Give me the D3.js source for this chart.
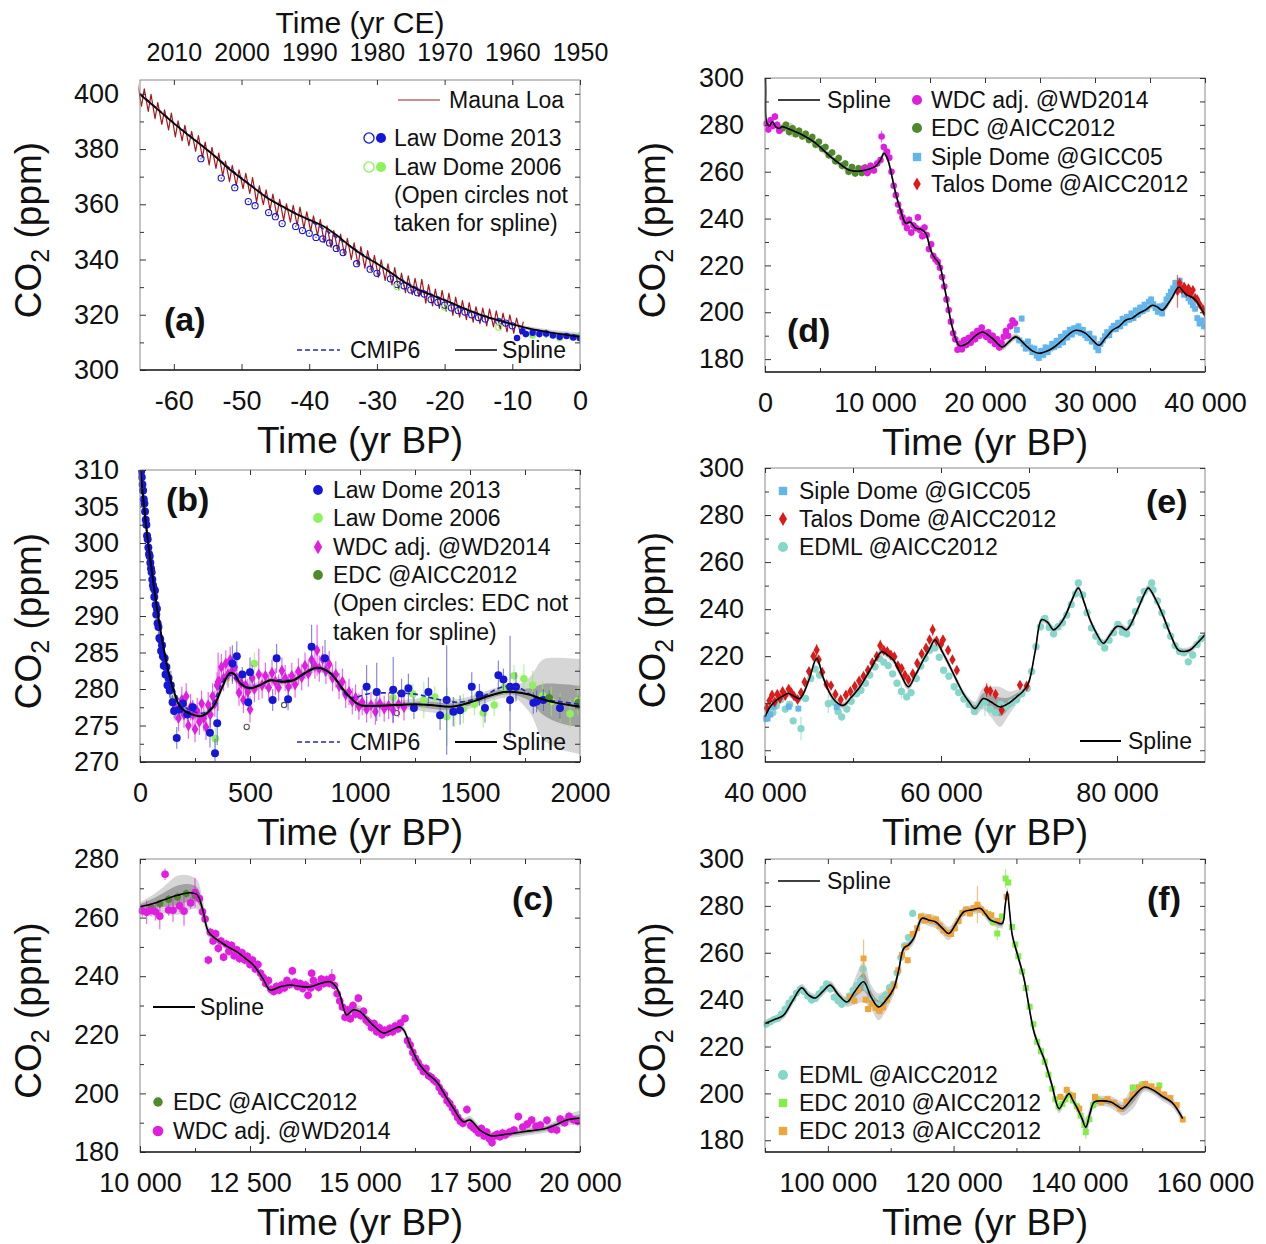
<!DOCTYPE html>
<html>
<head>
<meta charset="utf-8">
<script src="https://cdn.jsdelivr.net/npm/d3@7"></script>
<style>
  body { margin: 0; background: #fff; }
</style>
</head>
<body>
<script>
// ---------------------------------------------------------------
// Atmospheric CO2 records and spline fits, six time windows
// Each data row: [time (yr BP), CO2 (ppm), optional 1-sigma (ppm)]
// ---------------------------------------------------------------

// ----- (a) instrumental era -----
// Mauna Loa: [year CE, May maximum, autumn minimum]
const maunaLoa = [
  [1958,317.5,313.0],[1959,318.8,313.3],[1960,320.0,313.8],[1961,320.6,314.8],[1962,321.4,315.6],
  [1963,322.1,316.0],[1964,322.4,316.8],[1965,322.9,317.3],[1966,324.4,318.2],[1967,325.1,319.1],
  [1968,326.4,319.8],[1969,327.8,321.3],[1970,328.8,322.3],[1971,329.3,323.2],[1972,330.9,324.2],
  [1973,332.8,326.6],[1974,333.2,327.3],[1975,334.1,328.0],[1976,335.1,329.0],[1977,337.1,330.8],
  [1978,338.4,332.4],[1979,339.9,333.6],[1980,341.5,335.9],[1981,343.2,336.9],[1982,344.7,338.0],
  [1983,346.0,340.0],[1984,347.7,341.7],[1985,349.2,343.2],[1986,350.5,344.4],[1987,352.2,346.1],
  [1988,354.5,348.7],[1989,355.8,350.3],[1990,357.3,351.3],[1991,359.0,352.4],[1992,359.6,353.5],
  [1993,360.2,354.2],[1994,361.8,355.8],[1995,363.7,358.0],[1996,365.2,359.9],[1997,366.7,360.8],
  [1998,369.7,363.9],[1999,371.2,365.7],[2000,372.5,366.8],[2001,374.1,368.2],[2002,375.6,370.3],
  [2003,378.5,373.0],[2004,380.6,374.3],[2005,382.5,376.9],[2006,384.9,379.2],[2007,386.4,381.2],
  [2008,388.6,383.0],[2009,390.2,384.4],[2010,393.0,386.9],[2011,394.2,388.9],[2012,396.8,391.0],
  [2013,399.8,393.6],[2014,401.8,395.5],[2015,403.9,397.6]
];
const lawDome13OpenA = [
  [-56,376.5],[-53,369.5],[-51,366],[-49,361],[-48,359.5],[-46,357],[-45,355.5],[-44,353],[-42,352],
  [-41,350.5],[-40,349.5],[-39,348],[-38,347.5],[-37,346],[-36,344],[-35,342.5],[-33,338.5],[-31,336.5],
  [-30,335],[-28,333],[-27,331],[-26,330.5],[-25,329],[-24,328],[-23,327.5],[-22,325.5],[-21,324.5],
  [-20,323.5],[-19,322.5],[-18,321.5],[-17,321],[-16,320],[-15,319],[-14,318.5],[-12,317.5],[-11,317],[-10,316]
];
const lawDome13A = [
  [-9.3,311.6],[-8.5,314],[-8,313],[-7,313.5],[-6,313],[-5,313.2,1.5],[-4,312.5],[-3,312],[-2,312.3],[-1,311.8],[0,311.5]
];
const lawDome06OpenA = [[-27,330.2],[-20,322.8],[-12,315.5]];
const lawDome06A = [[-7,312.5],[-5,313],[-3,311.5],[-1,312],[0,312.5]];
const cmip6A = [
  [-65,400.1],[-60,389.5],[-55,379.6],[-50,369.6],[-45,360.6],[-40,354.2],[-35,346.5],[-30,338.6],
  [-25,330.8],[-20,325.4],[-15,320.1],[-10,316.5],[-5,313.6],[0,312.4]
];
const splineA = [
  [-65,399.8],[-62,393.5],[-60,389.3],[-58,385.3],[-56,381.5],[-54,377.5],[-52,373.1],[-50,369.3],
  [-48,365.6],[-46,362],[-44,359.3],[-42,356.6],[-40,354.4],[-38,352.2],[-36,348.9],[-34,344.9],
  [-32,341.4],[-30,338.5],[-28,335.3],[-26,331.9],[-24,329.2],[-22,327.2],[-20,325.3],[-18,323.2],
  [-16,321.2],[-14,319.4],[-12,318],[-10,316.6],[-8,315.3],[-6,314.3],[-4,313.4],[-2,312.7],[0,312]
];
// band half-widths: [time, 2-sigma, 1-sigma]
const bandA = [[-65,0.6,0.3],[-10,0.6,0.3],[-5,1,0.5],[0,1.6,0.8]];

// ----- (b) last two millennia -----
const lawDome13B = [
  [2,310.2,0.5],[5,309.8],[8,309],[11,308],[14,307.2],[17,306],[20,305.4],[23,304.3],[26,303.2],[29,302.5],
  [32,301],[35,300.5],[38,299.4],[41,298.5],[44,298.2],[47,297.3],[50,296.5],[53,296],[56,295],[59,294.2],
  [62,293.8],[65,292.6],[68,293.5],[71,291.5],[74,290.2],[77,291],[80,289],[84,288.5],[88,287],[92,286.8],
  [96,285.2],[100,286],[104,284.5],[108,283.2],[112,284.2],[116,282],[120,283],[125,280.5],[130,281.5],
  [135,279.8],[140,280.5,2],[148,278.2],[155,277],[167,273.3,1.5],[180,277.2],[195,278],[215,276.5],
  [240,277.5],[318,274,2],[341,271.2,2],[351,275.3,3],[420,283.5,2.5],[440,284.5,2],[465,282],[492,278.2],
  [500,282.3,2],[603,278.5,1.5],[621,284.2,2],[673,278.6,1.5],[780,285.8,3],[841,284.2,2.5],[1030,280.3,3],
  [1076,279.6,4],[1151,279.9,4.5],[1189,279.4,2],[1220,280.1,2],[1245,277.4,1.5],[1311,279.6,2],
  [1364,276.4,2],[1394,278.5,7.5],[1424,276.9,2],[1455,277.1,2],[1508,280.3,2],[1543,279.2,1.5],
  [1568,277.4,2],[1629,281.9,2],[1652,281.3,1.5],[1682,280.3,7],[1709,280.3,2],[1682,278.5,1.5],
  [1788,278.1,1.5],[1803,278.3,1.5],[1833,278.5,1.5],[1909,277.4,1.5]
];
const lawDome06B = [
  [150,278.5],[175,276.5],[342,273.2,1.5],[395,281.5],[520,283.5,1.5],[1150,278.8],[1240,279.3,1.5],
  [1290,278.5,2.5],[1340,278.9,1.5],[1395,276.2,4],[1430,276.8,2],[1470,277.3,2],[1520,277.9,1.5],
  [1560,276.7,2],[1610,277.8,1.5],[1655,280.2,1.5],[1700,281.8,1.5],[1745,281.4,2],[1785,280.5,2],
  [1830,279.1,2],[1870,278.3,2],[1910,277.5,2],[1955,276.6,2],[1990,278.4,2]
];
const wdcB = [
  [160,277.5],[175,276],[190,278.5],[200,276.5],[210,279],[220,275],[230,277.5],[240,276.5],[250,274.5],
  [260,277],[270,275.5],[280,278],[290,276],[300,274.8],[310,277.8],[320,276.5],[330,279],[340,278],
  [350,280.5],[355,281,4],[360,281],[370,283],[380,281.5],[390,283.5],[400,282],[410,284],[420,282.5],
  [430,283],[440,281.5],[450,279.5],[460,280.8],[470,278.5],[480,280.5],[490,279.6],[500,277.2],[510,281.5],
  [520,280],[540,282,3.5],[555,280.5],[570,281.8],[585,280.2],[600,282.2],[615,281],[630,280.2],[645,282.5],
  [660,281.5],[675,280.3],[690,281.8],[705,280.6],[720,282.4],[735,281.6],[750,283.2],[765,282.1],[780,284],
  [795,283.2],[805,285.3,3.5],[815,282.8],[830,284.1],[845,282.5],[860,283.4],[875,281.5],[890,282],
  [905,280.4],[920,281],[935,279.2],[950,279.6],[965,278.3],[980,278.8],[995,277.6],[1010,278.2],
  [1030,277.2],[1050,277.8],[1070,276.9],[1090,278],[1110,277.3],[1130,277.7],[1150,277.1],[1175,277.9],[1200,277.5]
];
const edcB = [[1860,278.8],[1992,278.1]];
const edcOpenB = [[485,274.8],[655,277.8],[1167,276.7]];
const cmip6B = [
  [0,310.5],[30,302],[60,294.5],[100,286.5],[150,280.3],[200,277.6],[300,276.8],[400,281.9],[455,280.9],
  [500,280.2],[600,281.2],[700,281.3],[800,282.8],[870,282.1],[950,278.9],[1050,279.4],[1250,279.3],
  [1350,278.6],[1450,278.2],[1550,278.9],[1650,280.3],[1720,280.2],[1800,278.8],[1900,278.3],[2000,277.9]
];
const splineB = [
  [0,310.3],[15,306],[30,301.8],[50,297],[68,293],[88,289],[106,285.8],[130,282.3],[151,280],[182,277.6],
  [230,276.6],[280,276.3],[333,277.6],[370,280],[409,282.2],[430,282],[455,280.8],[500,280.1],[550,280.6],
  [591,281.2],[640,281],[697,281.2],[750,282.2],[803,282.9],[864,282.2],[924,279.9],[960,278.7],[1000,277.8],
  [1080,277.7],[1167,277.8],[1250,277.9],[1318,277.8],[1424,277.6],[1515,278.3],[1580,279],[1652,279.6],
  [1700,279.6],[1773,279.2],[1830,278.6],[1894,278.1],[1950,277.8],[2000,277.6]
];
const bandB = [
  [0,0.6,0.3],[1200,0.6,0.3],[1350,1.1,0.5],[1500,0.8,0.4],[1720,0.8,0.4],[1760,1.5,0.6],[1800,4.5,1.5],
  [1850,6,2.5],[1950,6.4,2.8],[2000,6.5,2.8]
];

// ----- (c) deglaciation -----
const wdcC = [
  [10050,262.3,2],[10150,261.8,4],[10250,262.4,2],[10350,262,3],[10450,260.5,4.5],[10570,274.8,2],[10650,262.6,2],
  [10750,262.5,4],[10900,264,2],[11000,262.2,5],[11150,265,2],[11250,268.5,5],[11350,266.5,2],[11420,262],
  [11480,259.5],[11553,245.5],[11600,255],[11660,252],[11720,254.5],[11780,249.5],[11840,252],[11900,246.5],
  [11960,251],[12020,248.5],[12080,250.5],[12140,247],[12200,249],[12260,246],[12320,248],[12380,245.5],
  [12440,246.8],[12500,244],[12560,245.5],[12620,242.5],[12680,244],[12740,241],[12800,239.5],[12860,237.5],
  [12920,238.5],[12980,235.5],[13040,234.8],[13100,236.5],[13160,235.2],[13220,237],[13280,236],[13340,238.5],
  [13400,237.2],[13462,241.8],[13520,238],[13580,236.5],[13640,237.5],[13700,235.8],[13760,237],[13820,233.5],
  [13880,236],[13902,241],[13940,238.5],[14000,237],[14060,236.2],[14120,239],[14180,237.5],[14240,238.8],
  [14300,237.6],[14360,239.5,3],[14420,236.8],[14480,234],[14540,231.5],[14600,229.5],[14660,226],[14720,228.5],
  [14780,225.5],[14840,230],[14900,227],[14962,232.5],[15020,226.5],[15080,228],[15140,225],[15200,224.2],
  [15260,222.5],[15320,223.8],[15380,221],[15440,222.4],[15500,220],[15560,221.5],[15620,220.8],[15680,222.2],
  [15740,221],[15800,223],[15860,222],[15920,224],[16023,225.6],[16080,218],[16140,216.5],[16200,214],
  [16260,212],[16320,210.5],[16380,209],[16440,207.5],[16500,208.5],[16560,206],[16620,205.5],[16680,204.5],
  [16740,203.8],[16800,202],[16860,200.5],[16920,199.5],[16980,197.5],[17040,196.5],[17100,195],[17160,193.5],
  [17220,191.8],[17280,190.5],[17340,189.8],[17430,194.5],[17520,189],[17580,188.2],[17640,187.5],[17700,186.5],
  [17760,188],[17820,185.5],[17880,186.8],[17940,184.5],[18000,183.2],[18060,185.5],[18120,186],[18180,185.2],
  [18240,186.5],[18300,185.8],[18400,186.8],[18500,187.5],[18598,192.1],[18700,188.5],[18800,189.5],
  [18902,190.9],[19000,188.8],[19100,189.2],[19250,190.8],[19350,187.8],[19470,187.5],[19550,191.2],
  [19650,190],[19750,192.2],[19850,191],[19950,190.5]
];
const edcC = [[10250,263.5],[10450,264.8],[10650,266.2],[10850,267],[11050,268.2],[11250,267.5]];
const splineC = [
  [10000,263.7],[10300,264.8],[10530,266],[10850,267.6],[11136,268.5],[11300,267.8],[11420,263],[11553,255.2],
  [11700,253],[11818,251.8],[12000,250],[12197,248.4],[12400,246],[12576,243.8],[12800,239],[12955,235.3],
  [13200,236.5],[13409,237],[13650,236.5],[13864,236.4],[14100,237.5],[14318,238.1],[14450,236.5],[14545,233.6],
  [14697,226.8],[14850,228.5],[15000,227.9],[15250,224],[15530,220.6],[15700,221.5],[15909,222.7],[16000,221.5],
  [16136,216.5],[16364,209.7],[16550,206.5],[16742,204],[16950,199],[17121,195],[17348,190.3],[17500,190.9],
  [17727,187.5],[17992,185.5],[18250,185.9],[18485,186.4],[18850,187.2],[19242,188.1],[19500,189.6],
  [19697,190.9],[20000,191.6]
];
const bandC = [
  [10000,1.5,0.8],[10400,3.5,2],[10900,7,3.5],[11300,5,2.5],[11550,2,1],[12000,1.2,0.6],[14700,1.2,0.6],
  [15000,2,1],[15300,1.2,0.6],[19500,1.5,0.8],[20000,2.5,1.2]
];

// ----- (d) 0-40 kyr BP -----
const wdcD = [
  [100,280.5],[300,278],[500,282],[700,279.5],[900,283.5],[1100,280],[1300,277.5],
  [9000,261.5],[9300,259.5],[9600,262.5],[9900,260.5],[10200,263.5],[10500,265],[10600,275,2.5],[10800,270.5],
  [11100,268.5],[11300,266],[11500,260],[11700,254],[11900,250],[12100,246],[12300,243],[12500,240.5],
  [12700,238.2],[12900,236],[13100,239.5],[13300,234],[13500,237],[13700,236],[13900,240.5],[14100,235],
  [14300,232.5],[14500,236.2],[14700,233],[14900,227],[15100,229],[15300,224],[15500,222.5],[15700,221.5],
  [15900,219],[16100,215],[16300,211],[16500,205.5],[16700,201],[16900,196],[17100,191],[17300,188.5],
  [17500,184],[17700,186.5],[17900,184.2],[18100,188],[18300,186],[18500,189],[18700,187],[18900,190.5],
  [19100,188.5],[19300,192],[19500,190],[19700,193.5],[19900,191],[20100,189.5],[20300,191.5],[20500,188],
  [20700,190],[20900,186.5],[21100,188.5],[21300,185],[21500,187],[21700,189.5],[21900,192],[22100,190],
  [22300,194],[22500,196.5],[22727,195.3]
];
const edcD = [
  [1600,278.5],[1900,280],[2200,277],[2500,278.5],[2800,276],[3100,277.5],[3400,275],[3700,276.2],[4000,273.5],
  [4300,274.8],[4600,271.5],[4900,272.8],[5200,269.8],[5500,270.5],[5800,267],[6100,268.2],[6400,264.5],
  [6700,265.8],[7000,262.5],[7300,263.5],[7600,260],[7900,262],[8200,259.2],[8500,261.5],[8800,259.5],
  [9100,261.8],[9400,260.2]
];
const sipleD = [
  [22900,192.5],[23100,188],[23333,197.3],[23500,186.5],[23700,184.5],[23900,187.5],[24100,185],[24300,183],
  [24500,184.5],[24700,181.5],[24900,180.5],[25100,183.5],[25300,181.8],[25500,185],[25700,183],[25900,184.8],
  [26100,186.5],[26300,185.2],[26500,187.8],[26700,186],[26900,189.5],[27100,187.2],[27300,191],[27500,189.2],
  [27700,192.5],[27900,190.5],[28100,193.2],[28300,191.8],[28500,194],[28700,191.2],[28900,192.5],[29100,190.2],
  [29300,189],[29500,190.8],[29700,187.5],[29900,188.8],[30100,185.2],[30300,183.8],[30500,186.5],[30700,188],
  [30900,189.8],[31100,191.5],[31300,190.2],[31500,193],[31700,194.2],[31900,192.8],[32100,195.5],[32300,194],
  [32500,197.2],[32700,195.5],[32900,198],[33100,196.8],[33300,199.5],[33500,197.5],[33700,200.8],[33900,199],
  [34100,202],[34300,200.5],[34500,203.2],[34700,201.5],[34900,204.5],[35100,205.5],[35300,203.5],[35500,201.8],
  [35700,200.2],[35900,202.5],[36100,199.5],[36300,203],[36500,205.5],[36700,207],[36900,208.8],[37100,210.2],
  [37300,212.5],[37500,211.2],[37700,213.5],[37900,209.5],[38100,207.5],[38300,208.2],[38500,206],[38700,204.5],
  [38900,203],[39100,201.5],[39300,197.5],[39500,195.2],[39700,196.5],[39900,194]
];
const talosD = [
  [37500,209,7],[37700,212.5],[37900,209.8],[38100,211],[38300,208.5],[38500,210.2],[38700,207.8],[38900,209.5],
  [39100,206.2],[39300,205.5],[39500,203.5],[39800,201.5],[40000,199.8]
];
const splineD = [
  [0,311],[60,296],[150,281],[400,279.5],[667,281.3],[1000,279],[1273,278.5],[1576,279.2],[2300,278],
  [3091,276.4],[3850,274.5],[4606,272.2],[5350,269],[6121,265.8],[6900,263],[7636,260.7],[8400,260.2],
  [9152,260.7],[10061,262.4],[10500,265],[10818,267.9],[11050,266.5],[11273,263.5],[11879,250.8],[12300,244],
  [12788,238],[13200,238.5],[13697,235.9],[14150,235.5],[14606,233.8],[15061,226.5],[15450,223],[15818,220.9],
  [16424,208.1],[17030,193.6],[17636,185.9],[18100,186],[18545,187.3],[19150,190],[19758,191.6],[20667,188.9],
  [21576,185.2],[22200,187.5],[22788,189.5],[23697,185.9],[24300,183.5],[24909,182.5],[25818,183.8],
  [26400,185.5],[27030,188],[27600,190.5],[28242,192.3],[29152,191],[29800,188],[30364,185.9],[30950,189],
  [31576,192.3],[32200,194],[32788,196.6],[33400,197.5],[34000,199.6],[34600,201],[35212,203],[35650,202.3],
  [36121,200.9],[36900,205.5],[37636,210.8],[38000,209],[38394,207.3],[38800,206.5],[39152,205.1],
  [39600,202],[40000,198.7]
];
const bandD = [[0,1,0.5],[1500,1,0.5],[1800,3,1.5],[2500,3,1.5],[3000,1.5,0.8],[40000,1.5,0.8]];

// ----- (e) 40-90 kyr BP -----
const sipleE = [[40000,193.6],[40300,193.5],[40600,195.2],[41000,198.5],[42700,198.5],[43788,197.7],[48144,198.4]];
const talosE = [
  [40200,198],[40500,201],[40800,203.5],[41100,200.5],[41400,203.8],[41700,202],[42000,205],[42300,203.2],
  [42700,206],[43000,204.5],[43300,203],[43700,201.5],[44100,204.5],[44500,209],[45000,213.5],[45500,220],
  [45871,222.6,2.5],[46100,218.5],[46500,213.2],[47000,208],[47500,207.5],[48000,203.8],[48600,201.5],[49200,203.5],
  [49700,205],[50200,207.2],[50700,209.5],[51200,211.5],[51700,214],[52200,217.2],[52700,220],[53100,224.5,2.5],
  [53500,222.5],[53900,222],[54300,220.5],[54700,219.8],[55100,216],[55530,214.8],[55900,212],[56300,210],
  [56800,212.5],[57300,217],[57800,221],[58300,223.5],[58700,227],[59053,231.2,2.5],[59500,226.5],[60000,225],
  [60227,227],[60800,222.5],[61300,218.5],[61800,214],[65190,205.6,3],[65600,205.2],[66200,203.8],[66896,197.1],
  [68977,207.7],[69735,207.3]
];
const edmlE = [
  [40100,193.5],[40400,197.2],[40900,196],[41300,199],[41800,201.5],[42300,197.5],[42800,199.5],[43200,192.5],
  [44090,189.2,5],[44600,202],[45200,210.5],[45700,214.5],[46200,212],[47197,199.8,4],[47800,200.5],[48300,196.5],
  [48712,194.2,2],[49300,197.5],[49800,200.8],[50400,204],[50900,205.5],[51400,208.5],[51900,212],[52500,215.5],
  [53000,219],[53500,217.5],[54000,216],[54500,212.5],[55000,208.5],[55500,205,3],[56098,202.7],[56600,204.5],
  [57200,210.5],[57700,215.8],[58200,219],[58700,222.5],[59300,223.5],[59800,219.5],[60300,214],[60900,211.5],
  [61500,207],[62000,204.5],[62600,201.8],[63200,199.5],[63800,196.5],[64400,199.2],[65000,200.5,6],[65600,197.5],
  [66200,196],[66800,199.5],[67400,198.5],[68000,200.2],[68600,201.5],[69200,204],[69800,206.2],[70300,213.5],
  [70800,224],[71300,232.5],[71800,236],[72300,232.2],[72800,229.5],[73300,232.5],[73800,234.2],[74300,237.5],
  [74800,242],[75300,246.5],[75606,251.1],[76100,246],[76600,238.5],[77100,232],[77600,228.5],[78100,226],
  [78600,223.5],[79100,226.8],[79600,230],[80100,233.5],[80600,230.2],[81100,229.5],[81600,234.2],[82100,239],
  [82600,244],[83100,247.5],[83943,251.1],[84100,248.2],[84600,243.5],[85100,238.5],[85600,233],[86100,228.5],
  [86600,224.5],[87100,222],[87600,221.5],[88102,217.6],[88600,220.5],[89100,225],[89600,227.5]
];
const splineE = [
  [40000,194.2],[40600,198.5],[41326,201.3],[42000,203],[42652,204.1],[43300,203],[43977,202],[45000,210],
  [45871,219.1],[46600,211],[47386,204.1],[48100,200.5],[48900,199.1],[49800,202.5],[50795,207],[52000,214.5],
  [53258,221.9],[53900,220.5],[54583,218.4],[55400,212.5],[56288,207],[57100,212],[57992,218.4],[58700,223],
  [59318,226.9],[60200,221.5],[61023,215.5],[61800,209.5],[62538,204.1],[63200,200.5],[63864,197.7],
  [64811,202],[65700,200.5],[66705,198.4],[67700,200],[68598,202.7],[69300,205],[69924,208.4],[70700,222],
  [71439,235.5],[72100,234.5],[72765,231.2],[73400,233],[74091,236.9],[74900,244],[75606,249],[76300,242.5],
  [76932,235.5],[77700,229.5],[78447,225.5],[79200,229],[79962,232.6],[80500,232.5],[81098,231.2],
  [82300,239.5],[83000,245.5],[83561,249],[84400,244],[85265,236.9],[86100,229],[86970,222.6],[87600,222],
  [88295,222.6],[89100,225.5],[90000,229.1]
];
const bandE = [
  [40000,1.5,0.8],[63000,1.5,0.8],[64500,4,2],[66700,8.5,4],[68000,4,2],[69500,1.5,0.8],[90000,1.5,0.8]
];

// ----- (f) 90-160 kyr BP -----
const edmlF = [
  [90200,229.5],[90800,230.5],[91400,231.5],[92000,232],[92600,233.8],[93200,236],[93800,238.5],[94400,240.5],
  [95000,242.8],[95600,244.5],[96200,243.5],[96800,241.5],[97400,239.8],[98000,240.5],[98600,242.5],
  [99200,244.5],[99800,246.8],[100400,244.5],[101000,241],[101600,239.5],[102200,238],[102800,239.5],
  [103400,241.5],[104000,244],[104600,246],[105200,248],[105600,253],[106200,245],[106800,240],[107400,238],
  [108000,237.5],[108600,240.5],[109200,242],[109800,245.2],[110400,246.5],[111000,251.5],[111600,258],
  [112200,263],[112800,266.5],[113494,276.8]
];
const edc2010F = [
  [125500,276.5],[126300,273],[126956,268.2,3],[127700,275.5],[128277,291.7,4],[128700,290],[129300,271],
  [129800,263.5],[130300,258.5],[130900,252],[131500,245],[132100,237],[132700,229.5],[133300,222],[133900,218],
  [134500,213.5],[135100,208],[135700,202],[136200,197.5],[136700,194.5],[137300,195.5],[137800,197.5],
  [138400,199.5],[139000,197],[139600,194.5],[140200,190.5],[140800,186.5],[141037,183.5,3],[141600,189],
  [142200,195],[142800,197.5],[148500,202.5],[150000,203.8],[152731,203.4]
];
const edc2013F = [
  [103500,241],[104200,239.5],[104800,244],[105683,257.6,8],[106000,240],[106400,236],[107000,238.5],
  [107600,236.5],[108200,235.2],[108800,236.8],[109400,240],[110000,243.5],[110600,246],[111200,252.5],
  [111800,259],[112400,262.5],[112700,256.8],[113500,268],[114200,270.5],[114800,275.5],[115400,273.8],
  [116000,275],[116600,273.5],[117200,274.2],[117800,271.5],[118400,269.5],[119000,268.5],[119600,268],
  [120200,270.5],[120800,273.5],[121400,277],[122000,278.5],[122600,276.8],[123200,279],[123800,280.5,8],
  [124400,278.5],[125000,277.2],[126000,276],[127000,273.5],[128440,283.9],[137000,198.5],[138000,201.5],
  [139000,199],[140000,193.5],[142500,198.5],[143500,196.2],[144500,197.5],[145500,196],[146500,193.5],
  [147500,196.5],[148500,199.5],[149500,202.5],[150500,204],[151500,203],[152500,201.5],[153500,199.5],
  [154500,198],[155500,195],[156455,188.9]
];
const splineF = [
  [90000,229.8],[91500,231.5],[92924,233.3],[94400,239.5],[95847,245],[96900,242],[97974,240.7],[99200,243.5],
  [100366,246.2],[101700,242],[103024,239],[104300,243.5],[105683,247.6],[106900,241],[108075,236.9],
  [109300,240],[110467,244.7],[111300,253],[112062,261.8],[112900,263.5],[113657,266.1],[114300,271],
  [114986,274.7],[116000,274],[117113,273.2],[118200,270.5],[119240,268.2],[120400,272.5],[121632,277.5],
  [122900,278.3],[124290,278.9],[125100,276.5],[125885,273.9],[126800,273],[127746,272.5],[128200,280],
  [128543,286],[128900,278],[129341,267.5],[130300,258],[131202,249],[132000,237],[132797,226.2],
  [133600,220],[134392,214.8],[135600,204],[136784,193.5],[137600,197],[138379,199.9],[139000,197],
  [139708,193.5],[140400,189.5],[141037,185.6],[141700,191.5],[142367,196.3],[143700,196.8],[145025,196.3],
  [146000,194.8],[146886,193.5],[148600,198.5],[150342,202.7],[151700,201.5],[153000,199.1],[154800,196],
  [156455,189.2]
];
const bandF = [
  [90000,1.5,0.8],[103000,2,1],[105600,9,4],[107000,5,2.5],[108500,6,3],[110000,3,1.5],[112000,2,1],
  [119000,3,1.5],[121000,2,1],[140000,2,1],[141000,4,2],[143000,2,1],[147000,3,1.5],[148500,5,2.5],
  [150000,2,1],[160000,2,1]
];

// ----- tick values -----
const ticksA = { xMajor: [-60,-50,-40,-30,-20,-10,0], xMinor: [], yMajor: [300,320,340,360,380,400], yMinor: [310,330,350,370,390] };
const yearsCE = [2010,2000,1990,1980,1970,1960,1950];
const ticksB = { xMajor: [0,500,1000,1500,2000], xMinor: [250,750,1250,1750], yMajor: [270,275,280,285,290,295,300,305,310], yMinor: [272.5,277.5,282.5,287.5,292.5,297.5,302.5,307.5] };
const ticksC = { xMajor: [10000,12500,15000,17500,20000], xMinor: [11250,13750,16250,18750], yMajor: [180,200,220,240,260,280], yMinor: [190,210,230,250,270] };
const ticksD = { xMajor: [0,10000,20000,30000,40000], xMinor: [5000,15000,25000,35000], yMajor: [180,200,220,240,260,280,300], yMinor: [190,210,230,250,270,290] };
const ticksE = { xMajor: [40000,60000,80000], xMinor: [50000,70000], yMajor: [180,200,220,240,260,280,300], yMinor: [190,210,230,250,270,290] };
const ticksF = { xMajor: [100000,120000,140000,160000], xMinor: [90000,110000,130000,150000], yMajor: [180,200,220,240,260,280,300], yMinor: [190,210,230,250,270,290] };

// ---------------------------------------------------------------
// drawing
// ---------------------------------------------------------------
const FONT = '"Liberation Sans", Arial, Helvetica, sans-serif';
const svg = d3.select("body").append("svg")
  .attr("width", 1266).attr("height", 1244)
  .style("font-family", FONT).style("background", "#fff");
const defs = svg.append("defs");

const C = {
  ld13: "#1616d6", ld06: "#8ef25c", wdc: "#e01ee0", edc: "#4e8a2c", siple: "#62b6ec",
  talos: "#dc1a1a", edml: "#86d6ca", edc10: "#84ee48", edc13: "#efa53a", ml: "#a81818", cmip: "#2626b8"
};
const fmtSpace = d => d3.format(",")(d).replace(/,/g, " ");
const TICK_FONT = 27;

function makePanel(o) {
  const x = d3.scaleLinear().domain(o.xDomain).range([o.left, o.left + o.width]);
  const y = d3.scaleLinear().domain(o.yDomain).range([o.top + o.height, o.top]);
  const root = svg.append("g");
  defs.append("clipPath").attr("id", "clip-" + o.id)
    .append("rect").attr("x", o.left - 1.5).attr("y", o.top).attr("width", o.width + 1.5).attr("height", o.height);
  const plot = root.append("g").attr("clip-path", `url(#clip-${o.id})`);
  const bottom = o.top + o.height, right = o.left + o.width;
  const t = o.ticks;

  root.append("rect").attr("x", o.left).attr("y", o.top).attr("width", o.width).attr("height", o.height)
    .attr("fill", "none").attr("stroke", "#8a8a8a").attr("stroke-width", 1);

  const style = (g) => {
    g.attr("font-family", FONT).attr("font-size", TICK_FONT);
    g.selectAll(".domain").remove();
    g.selectAll(".tick line").attr("stroke", "#333").attr("stroke-width", 1);
    g.selectAll(".tick text").attr("fill", "#111");
  };
  // bottom
  root.append("g").attr("transform", `translate(0,${bottom})`)
    .call(d3.axisBottom(x).tickValues(t.xMajor).tickFormat(o.xFormat).tickSize(-6).tickPadding(21)).call(style);
  root.append("g").attr("transform", `translate(0,${bottom})`)
    .call(d3.axisBottom(x).tickValues(t.xMinor).tickFormat("").tickSize(-4)).call(style);
  // top
  root.append("g").attr("transform", `translate(0,${o.top})`)
    .call(d3.axisTop(x).tickValues(t.xMajor.concat(t.xMinor)).tickFormat("").tickSize(-5)).call(style);
  // left
  root.append("g").attr("transform", `translate(${o.left},0)`)
    .call(d3.axisLeft(y).tickValues(t.yMajor).tickFormat(d3.format("d")).tickSize(-6).tickPadding(21)).call(style);
  root.append("g").attr("transform", `translate(${o.left},0)`)
    .call(d3.axisLeft(y).tickValues(t.yMinor).tickFormat("").tickSize(-4)).call(style);
  // right
  root.append("g").attr("transform", `translate(${right},0)`)
    .call(d3.axisRight(y).tickValues(t.yMajor.concat(t.yMinor)).tickFormat("").tickSize(-5)).call(style);
  // bottom spine
  root.append("line").attr("x1", o.left).attr("x2", right).attr("y1", bottom).attr("y2", bottom)
    .attr("stroke", "#222").attr("stroke-width", 1.6);

  // axis titles
  root.append("text").attr("x", o.left + o.width / 2).attr("y", bottom + 83)
    .attr("text-anchor", "middle").attr("font-size", 37).attr("fill", "#111").text("Time (yr BP)");
  const yt = root.append("text")
    .attr("transform", `translate(${o.yTitleX},${o.top + o.height / 2 + 5}) rotate(-90)`)
    .attr("text-anchor", "middle").attr("font-size", 37).attr("fill", "#111");
  yt.append("tspan").text("CO");
  yt.append("tspan").attr("font-size", 25).attr("dy", 8).text("2");
  yt.append("tspan").attr("dy", -8).text(" (ppm)");

  // panel letter
  root.append("text").attr("x", o.labelX).attr("y", o.labelY).attr("font-size", 34)
    .attr("font-weight", "bold").attr("fill", "#111").text(o.label);

  return { x, y, plot, root };
}

// spline uncertainty: half-widths interpolated along the spline knots
function drawBand(p, spline, band) {
  const hw = (t, k) => {
    for (let i = 1; i < band.length; i++) {
      if (t <= band[i][0]) {
        const a = band[i - 1], b = band[i];
        const f = (t - a[0]) / (b[0] - a[0]);
        return a[k] + f * (b[k] - a[k]);
      }
    }
    return band[band.length - 1][k];
  };
  const area = k => d3.area().curve(d3.curveCatmullRom.alpha(0.5))
    .x(d => p.x(d[0])).y0(d => p.y(d[1] - hw(d[0], k))).y1(d => p.y(d[1] + hw(d[0], k)));
  p.plot.append("path").datum(spline).attr("d", area(1)).attr("fill", "#c8c8c8").attr("opacity", 0.75);
  p.plot.append("path").datum(spline).attr("d", area(2)).attr("fill", "#8f8f8f").attr("opacity", 0.75);
}

function drawPoints(p, pts, s) {
  const sig = d => (d.length > 2 ? d[2] : s.sigma);
  p.plot.append("g").selectAll("line").data(pts).join("line")
    .attr("x1", d => p.x(d[0])).attr("x2", d => p.x(d[0]))
    .attr("y1", d => p.y(d[1] - sig(d))).attr("y2", d => p.y(d[1] + sig(d)))
    .attr("stroke", s.err || s.color).attr("stroke-width", 1.2).attr("opacity", 0.65);
  const sym = d3.symbol().type(s.shape).size(s.size);
  p.plot.append("g").selectAll("path").data(pts).join("path")
    .attr("d", sym)
    .attr("transform", d => `translate(${p.x(d[0])},${p.y(d[1])})`)
    .attr("fill", s.open ? "none" : s.color)
    .attr("stroke", s.open ? s.color : "none").attr("stroke-width", 1.1)
    .attr("opacity", s.opacity || 1);
}

function drawLine(p, data, color, width, dash, curve) {
  p.plot.append("path").datum(data)
    .attr("d", d3.line().curve(curve || d3.curveCatmullRom.alpha(0.5)).x(d => p.x(d[0])).y(d => p.y(d[1])))
    .attr("fill", "none").attr("stroke", color).attr("stroke-width", width)
    .attr("stroke-dasharray", dash || null).attr("stroke-linejoin", "round");
}

// legend helpers
function legText(p, x, y, txt, size) {
  p.root.append("text").attr("x", x).attr("y", y + 8).attr("font-size", size || 23).attr("fill", "#111").text(txt);
}
function legLine(p, x1, x2, y, color, width, dash) {
  p.root.append("line").attr("x1", x1).attr("x2", x2).attr("y1", y).attr("y2", y)
    .attr("stroke", color).attr("stroke-width", width).attr("stroke-dasharray", dash || null);
}
function legMark(p, x, y, s, size) {
  p.root.append("path").attr("d", d3.symbol().type(s.shape).size(size || s.size * 1.4)())
    .attr("transform", `translate(${x},${y})`)
    .attr("fill", s.open ? "none" : s.color).attr("stroke", s.open ? s.color : "none").attr("stroke-width", 1.3);
}

const circ = d3.symbolCircle, sq = d3.symbolSquare, dia = d3.symbolDiamond;

// ================= (a) =================
{
  const p = makePanel({ id: "a", left: 140, top: 80, width: 440, height: 290, xDomain: [-65, 0], yDomain: [300, 405],
    ticks: ticksA, xFormat: d => String(d), yTitleX: 41, label: "(a)", labelX: 164, labelY: 331 });
  // calendar-year axis on top
  const ceAxis = p.root.append("g").attr("transform", "translate(0,80)")
    .call(d3.axisTop(p.x).tickValues(ticksA.xMajor).tickFormat((d, i) => yearsCE[i]).tickSize(0).tickPadding(19));
  ceAxis.attr("font-family", FONT).attr("font-size", 25);
  ceAxis.select(".domain").remove();
  ceAxis.selectAll("text").attr("fill", "#111");
  p.root.append("text").attr("x", 360).attr("y", 33).attr("text-anchor", "middle")
    .attr("font-size", 30).attr("fill", "#111").text("Time (yr CE)");

  drawBand(p, splineA, bandA);
  const ml = [];
  maunaLoa.forEach(r => { ml.push([1950 - (r[0] + 0.37), r[1]]); ml.push([1950 - (r[0] + 0.78), r[2]]); });
  drawLine(p, ml, C.ml, 1.2, null, d3.curveLinear);
  drawPoints(p, lawDome13OpenA, { color: C.ld13, shape: circ, size: 30, sigma: 0.3, open: true });
  drawPoints(p, lawDome06OpenA, { color: C.ld06, shape: circ, size: 30, sigma: 0.3, open: true });
  drawPoints(p, lawDome06A, { color: C.ld06, shape: circ, size: 34, sigma: 0.6 });
  drawPoints(p, lawDome13A, { color: C.ld13, shape: circ, size: 34, sigma: 0.6 });
  drawLine(p, cmip6A, C.cmip, 1.6, "5,3");
  drawLine(p, splineA, "#000", 1.6);

  legLine(p, 398, 440, 100, C.ml, 1.2);
  legText(p, 449, 100, "Mauna Loa");
  legMark(p, 369, 138, { color: C.ld13, shape: circ, size: 50, open: true }, 80);
  legMark(p, 381, 138, { color: C.ld13, shape: circ, size: 50 }, 80);
  legText(p, 394, 138, "Law Dome 2013");
  legMark(p, 369, 167, { color: C.ld06, shape: circ, size: 50, open: true }, 80);
  legMark(p, 381, 167, { color: C.ld06, shape: circ, size: 50 }, 80);
  legText(p, 394, 167, "Law Dome 2006");
  legText(p, 394, 195, "(Open circles not");
  legText(p, 394, 223, "taken for spline)");
  legLine(p, 297, 340, 350, C.cmip, 1.6, "5,3");
  legText(p, 350, 350, "CMIP6");
  legLine(p, 455, 497, 350, "#000", 1.6);
  legText(p, 502, 350, "Spline");
}

// ================= (b) =================
{
  const p = makePanel({ id: "b", left: 140, top: 470, width: 440, height: 292, xDomain: [0, 2000], yDomain: [270, 310],
    ticks: ticksB, xFormat: d => String(d), yTitleX: 41, label: "(b)", labelX: 166, labelY: 511 });
  drawBand(p, splineB, bandB);
  drawPoints(p, edcOpenB, { color: "#555", shape: circ, size: 22, sigma: 0, open: true });
  drawPoints(p, lawDome06B, { color: C.ld06, shape: circ, size: 45, sigma: 1 });
  drawPoints(p, wdcB, { color: C.wdc, shape: dia, size: 40, sigma: 1.8 });
  drawPoints(p, lawDome13B, { color: C.ld13, shape: circ, size: 50, sigma: 1, err: "#4a4ad0" });
  drawPoints(p, edcB, { color: C.edc, shape: circ, size: 45, sigma: 1 });
  drawLine(p, cmip6B, C.cmip, 1.6, "5,3");
  drawLine(p, splineB, "#000", 2);

  legMark(p, 318, 490, { color: C.ld13, shape: circ }, 75); legText(p, 333, 490, "Law Dome 2013");
  legMark(p, 318, 518, { color: C.ld06, shape: circ }, 75); legText(p, 333, 518, "Law Dome 2006");
  legMark(p, 318, 547, { color: C.wdc, shape: dia }, 60); legText(p, 333, 547, "WDC adj. @WD2014");
  legMark(p, 318, 575, { color: C.edc, shape: circ }, 75); legText(p, 333, 575, "EDC @AICC2012");
  legText(p, 333, 603, "(Open circles: EDC not");
  legText(p, 333, 632, "taken for spline)");
  legLine(p, 297, 340, 742, C.cmip, 1.6, "5,3");
  legText(p, 350, 742, "CMIP6");
  legLine(p, 455, 497, 742, "#000", 1.8);
  legText(p, 502, 742, "Spline");
}

// ================= (c) =================
{
  const p = makePanel({ id: "c", left: 140, top: 859, width: 440, height: 293, xDomain: [10000, 20000], yDomain: [180, 280],
    ticks: ticksC, xFormat: fmtSpace, yTitleX: 41, label: "(c)", labelX: 512, labelY: 910 });
  drawBand(p, splineC, bandC);
  drawPoints(p, edcC, { color: C.edc, shape: circ, size: 40, sigma: 1.5 });
  drawPoints(p, wdcC, { color: C.wdc, shape: circ, size: 46, sigma: 1.5 });
  drawLine(p, splineC, "#000", 1.6);

  legLine(p, 153, 195, 1007, "#000", 1.8);
  legText(p, 200, 1007, "Spline");
  legMark(p, 158, 1102, { color: C.edc, shape: circ }, 70); legText(p, 173, 1102, "EDC @AICC2012");
  legMark(p, 158, 1131, { color: C.wdc, shape: circ }, 90); legText(p, 173, 1131, "WDC adj. @WD2014");
}

// ================= (d) =================
{
  const p = makePanel({ id: "d", left: 765, top: 78, width: 440, height: 294, xDomain: [0, 40000], yDomain: [174.5, 300],
    ticks: ticksD, xFormat: fmtSpace, yTitleX: 665, label: "(d)", labelX: 787, labelY: 342 });
  drawBand(p, splineD, bandD);
  drawPoints(p, edcD, { color: C.edc, shape: circ, size: 34, sigma: 1.5 });
  drawPoints(p, wdcD, { color: C.wdc, shape: circ, size: 34, sigma: 1.5 });
  drawPoints(p, sipleD, { color: C.siple, shape: sq, size: 34, sigma: 1.5 });
  drawPoints(p, talosD, { color: C.talos, shape: dia, size: 30, sigma: 1.5 });
  drawLine(p, splineD, "#000", 1.6);

  legLine(p, 778, 820, 100, "#000", 1.4);
  legText(p, 827, 100, "Spline");
  legMark(p, 917, 100, { color: C.wdc, shape: circ }, 80); legText(p, 931, 100, "WDC adj. @WD2014");
  legMark(p, 917, 128, { color: C.edc, shape: circ }, 80); legText(p, 931, 128, "EDC @AICC2012");
  legMark(p, 917, 157, { color: C.siple, shape: sq }, 70); legText(p, 931, 157, "Siple Dome @GICC05");
  legMark(p, 917, 184, { color: C.talos, shape: dia }, 50); legText(p, 931, 184, "Talos Dome @AICC2012");
}

// ================= (e) =================
{
  const p = makePanel({ id: "e", left: 765, top: 468, width: 440, height: 294, xDomain: [40000, 90000], yDomain: [175, 300],
    ticks: ticksE, xFormat: fmtSpace, yTitleX: 665, label: "(e)", labelX: 1146, labelY: 513 });
  drawBand(p, splineE, bandE);
  drawPoints(p, edmlE, { color: C.edml, shape: circ, size: 42, sigma: 1.5 });
  drawPoints(p, sipleE, { color: C.siple, shape: sq, size: 34, sigma: 1.5 });
  drawPoints(p, talosE, { color: C.talos, shape: dia, size: 34, sigma: 1.5 });
  drawLine(p, splineE, "#000", 1.6);

  legMark(p, 783, 491, { color: C.siple, shape: sq }, 70); legText(p, 799, 491, "Siple Dome @GICC05");
  legMark(p, 783, 519, { color: C.talos, shape: dia }, 55); legText(p, 799, 519, "Talos Dome @AICC2012");
  legMark(p, 783, 547, { color: C.edml, shape: circ }, 80); legText(p, 799, 547, "EDML @AICC2012");
  legLine(p, 1080, 1121, 741, "#000", 1.8);
  legText(p, 1128, 741, "Spline");
}

// ================= (f) =================
{
  const p = makePanel({ id: "f", left: 765, top: 859, width: 440, height: 293, xDomain: [90000, 160000], yDomain: [175, 300],
    ticks: ticksF, xFormat: fmtSpace, yTitleX: 665, label: "(f)", labelX: 1147, labelY: 910 });
  drawBand(p, splineF, bandF);
  drawPoints(p, edmlF, { color: C.edml, shape: circ, size: 40, sigma: 1.5 });
  drawPoints(p, edc2010F, { color: C.edc10, shape: sq, size: 36, sigma: 1.5 });
  drawPoints(p, edc2013F, { color: C.edc13, shape: sq, size: 36, sigma: 1.5 });
  drawLine(p, splineF, "#000", 1.6);

  legLine(p, 778, 820, 881, "#000", 1.6);
  legText(p, 827, 881, "Spline");
  legMark(p, 783, 1075, { color: C.edml, shape: circ }, 80); legText(p, 799, 1075, "EDML @AICC2012");
  legMark(p, 783, 1103, { color: C.edc10, shape: sq }, 70); legText(p, 799, 1103, "EDC 2010 @AICC2012");
  legMark(p, 783, 1131, { color: C.edc13, shape: sq }, 70); legText(p, 799, 1131, "EDC 2013 @AICC2012");
}
</script>
</body>
</html>
